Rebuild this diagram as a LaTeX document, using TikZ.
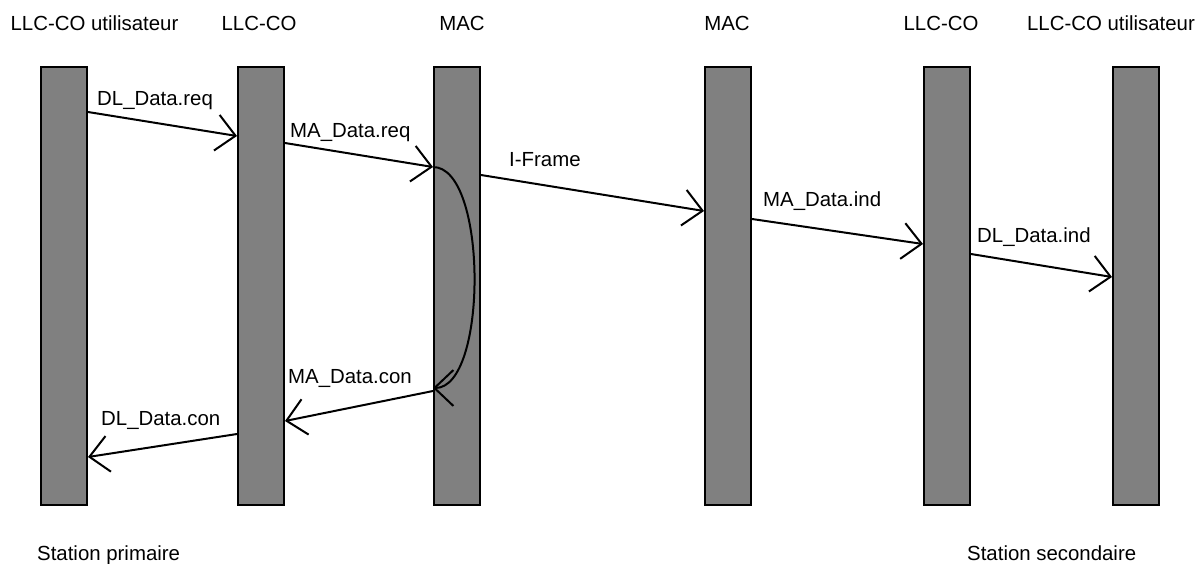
\documentclass[tikz,border=0pt]{standalone}
\usepackage{fontspec}
\setmainfont{Liberation Sans}
\usetikzlibrary{arrows.meta}
\definecolor{bargray}{RGB}{128,128,128}
\tikzset{
  layerbar/.style={draw=black, fill=bargray, line width=2pt, inner sep=0pt,
    minimum width=46pt, minimum height=438pt, anchor=north west},
  title/.style={inner sep=0pt, anchor=base, font=\fontsize{20.4}{24}\selectfont},
  msglabel/.style={inner sep=0pt, anchor=base west, font=\fontsize{20.4}{24}\selectfont},
  msg/.style={line width=2pt, -{Straight Barb[length=19pt, width=36pt, line width=2pt]}}
}
\begin{document}
\begin{tikzpicture}[x=1pt, y=-1pt]
  \useasboundingbox (0,0) rectangle (1197,563);

  % layer bars
  \node[layerbar] (b1) at (40,66) {};
  \node[layerbar] (b2) at (237,66) {};
  \node[layerbar] (b3) at (433,66) {};
  \node[layerbar] (b4) at (704,66) {};
  \node[layerbar] (b5) at (923,66) {};
  \node[layerbar] (b6) at (1112,66) {};

  % layer titles
  \node[title] (t1) at (94.5,30) {LLC-CO utilisateur};
  \node[title] (t2) at (259,30) {LLC-CO};
  \node[title] (t3) at (462,30) {MAC};
  \node[title] (t4) at (727,30) {MAC};
  \node[title] (t5) at (941,30) {LLC-CO};
  \node[title] (t6) at (1111,30) {LLC-CO utilisateur};

  % station names
  \node[msglabel] (s1) at (37,560) {Station primaire};
  \node[msglabel] (s2) at (967,560) {Station secondaire};

  % message end points on the bars
  \coordinate (p1) at (b1.east |- 0,112);
  \coordinate (p2) at (b2.west |- 0,136);
  \coordinate (p3) at (b2.east |- 0,143);
  \coordinate (p4) at (b3.west |- 0,167);
  \coordinate (p5) at (b3.east |- 0,175);
  \coordinate (p6) at (b4.west |- 0,211);
  \coordinate (p7) at (b4.east |- 0,219);
  \coordinate (p8) at (b5.west |- 0,244);
  \coordinate (p9) at (b5.east |- 0,254);
  \coordinate (p10) at (b6.west |- 0,277);
  \coordinate (p11) at (b3.west |- 0,388);
  \coordinate (p12) at (b3.west |- 0,391);
  \coordinate (p13) at (b2.east |- 0,421);
  \coordinate (p14) at (b2.west |- 0,434);
  \coordinate (p15) at (b1.east |- 0,457);

  % messages
  \draw[msg] (p1) -- (p2);
  \draw[msg] (p3) -- (p4);
  \draw[msg] (p5) -- (p6);
  \draw[msg] (p7) -- (p8);
  \draw[msg] (p9) -- (p10);
  \draw[msg] (p4) .. controls (488,167) and (488,388) .. (p11);
  \draw[msg] (p12) -- (p13);
  \draw[msg] (p14) -- (p15);

  % message labels
  \node[msglabel] (l1) at (97,105) {DL\_Data.req};
  \node[msglabel] (l2) at (290,137) {MA\_Data.req};
  \node[msglabel] (l3) at (509,166) {I-Frame};
  \node[msglabel] (l4) at (763,206) {MA\_Data.ind};
  \node[msglabel] (l5) at (977,242) {DL\_Data.ind};
  \node[msglabel] (l6) at (288,383) {MA\_Data.con};
  \node[msglabel] (l7) at (101,425) {DL\_Data.con};
\end{tikzpicture}
\end{document}
